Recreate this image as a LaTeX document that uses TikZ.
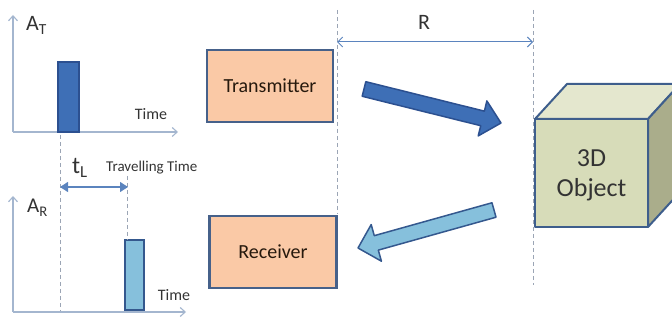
\documentclass[tikz,border=0pt]{standalone}
\usepackage{fontspec}
\setmainfont{Carlito}
\usetikzlibrary{calc,arrows.meta}
\definecolor{peach}{HTML}{FAC9A6}
\definecolor{boxline}{HTML}{46618A}
\definecolor{dashc}{HTML}{9BA5B5}
\definecolor{axisc}{HTML}{A4B6CF}
\definecolor{darkblue}{HTML}{3E6FB6}
\definecolor{darkblueline}{HTML}{2C5090}
\definecolor{lightblue}{HTML}{86C0DC}
\definecolor{lightblueline}{HTML}{34588E}
\definecolor{rline}{HTML}{5B84BE}
\definecolor{cubefront}{HTML}{D7DCB9}
\definecolor{cubetop}{HTML}{E4E7CE}
\definecolor{cubeside}{HTML}{AAAD8B}
\definecolor{cubeline}{HTML}{3E5E8C}
\definecolor{txt}{HTML}{333333}
\begin{document}
\begin{tikzpicture}[x=1pt,y=-1pt,
  blockbox/.style={draw=boxline,fill=peach,line width=2.5pt,text=black!80!brown,
     font=\fontsize{20}{24}\selectfont,inner sep=0pt},
  guide/.style={draw=dashc,line width=1pt,dash pattern=on 4pt off 3pt},
  axisline/.style={draw=axisc,line width=1.1pt,-{Straight Barb[length=5pt,width=9pt]}},
  lbl/.style={text=txt,inner sep=0pt},
  cubeedge/.style={draw=cubeline,line width=2pt,line join=round}]
\useasboundingbox (0,0) rectangle (672,320);
\clip (0,0) rectangle (672,320);

% ---------- top plot ----------
\coordinate (tO) at (13,132);
\coordinate (tY) at (13,15);
\coordinate (tX) at (178,132);
\draw[axisline] (tO) -- (tY);
\draw[axisline] (tO) -- (tX);
\draw[fill=darkblue,draw=darkblueline,line width=1.5pt] (58,62) rectangle (79,132);
\node[lbl,anchor=base west,font=\fontsize{22}{24}\selectfont] (at) at (26,31) {A\textsubscript{T}};
\node[lbl,anchor=base,font=\fontsize{16}{18}\selectfont] (ttime) at (151,120) {Time};

% ---------- bottom plot ----------
\coordinate (bO) at (13,312);
\coordinate (bY) at (13,196);
\coordinate (bX) at (186,312);
\draw[axisline] (bO) -- (bY);
\draw[axisline] (bO) -- (bX);
\draw[fill=lightblue,draw=lightblueline,line width=1.5pt] (125,240) rectangle (144,310);
\node[lbl,anchor=base west,font=\fontsize{21}{24}\selectfont] (ar) at (27,213) {A\textsubscript{R}};
\node[lbl,anchor=base,font=\fontsize{16}{18}\selectfont] (btime) at (174,301) {Time};

% ---------- travelling time ----------
\coordinate (g1t) at (60,135);
\coordinate (g1b) at (60,311);
\draw[guide] (g1t) -- (g1b);
\coordinate (g2t) at (127,176);
\coordinate (g2b) at (127,240);
\draw[guide] (g2t) -- (g2b);
\coordinate (tl1) at (60,187);
\coordinate (tl2) at (128,187);
\draw[draw=rline,line width=1.2pt,{Triangle[length=8pt,width=10pt]}-{Triangle[length=8pt,width=10pt]}] (tl1) -- (tl2);
\node[lbl,anchor=base west,font=\fontsize{24}{26}\selectfont] (tl) at (72,174) {t\textsubscript{L}};
\node[lbl,anchor=base west,font=\fontsize{15}{17}\selectfont] (trav) at (106,172) {Travelling Time};

% ---------- blocks ----------
\node[blockbox,minimum width=126pt,minimum height=72pt] (tx) at (270,86) {Transmitter};
\node[blockbox,minimum width=127pt,minimum height=72pt] (rx) at (273,252) {Receiver};

% ---------- range ----------
\coordinate (g3t) at (337,10);
\coordinate (g3b) at (337,214);
\draw[guide] (g3t) -- (g3b);
\coordinate (g4t) at (533,10);
\coordinate (g4b) at (533,285);
\draw[guide] (g4t) -- (g4b);
\coordinate (r1) at (337,42);
\coordinate (r2) at (533,42);
\draw[draw=rline,line width=1pt,{Straight Barb[length=5pt,width=10pt]}-{Straight Barb[length=5pt,width=10pt]}] (r1) -- (r2);
\node[lbl,anchor=base,font=\fontsize{22}{24}\selectfont] (rl) at (424,30) {R};

% ---------- cube ----------
\path[cubeedge,fill=cubetop] (535,119) -- (567,84) -- (680,84) -- (648,119) -- cycle;
\path[cubeedge,fill=cubeside] (648,119) -- (680,84) -- (680,192) -- (648,227) -- cycle;
\path[cubeedge,fill=cubefront] (535,119) rectangle (648,227);
\node[lbl,align=center,font=\fontsize{26}{30}\selectfont] (obj) at (591.5,175) {3D\\Object};

% ---------- fat arrows ----------
\coordinate (fa1) at (364,89);
\coordinate (fb1) at (501,123);
\coordinate (fh1) at ($(fb1)!19pt!(fa1)$);
\path[draw=darkblueline,fill=darkblue,line width=1.5pt,line join=round]
  ($(fa1)!7.5pt!90:(fb1)$) -- ($(fh1)!7.5pt!90:(fb1)$) -- ($(fh1)!18pt!90:(fb1)$)
  -- (fb1) -- ($(fh1)!18pt!-90:(fb1)$) -- ($(fh1)!7.5pt!-90:(fb1)$)
  -- ($(fa1)!7.5pt!-90:(fb1)$) -- cycle;

\coordinate (fa2) at (494,210);
\coordinate (fb2) at (358,248);
\coordinate (fh2) at ($(fb2)!19pt!(fa2)$);
\path[draw=lightblueline,fill=lightblue,line width=1.5pt,line join=round]
  ($(fa2)!7.5pt!90:(fb2)$) -- ($(fh2)!7.5pt!90:(fb2)$) -- ($(fh2)!19pt!90:(fb2)$)
  -- (fb2) -- ($(fh2)!19pt!-90:(fb2)$) -- ($(fh2)!7.5pt!-90:(fb2)$)
  -- ($(fa2)!7.5pt!-90:(fb2)$) -- cycle;
\end{tikzpicture}
\end{document}
